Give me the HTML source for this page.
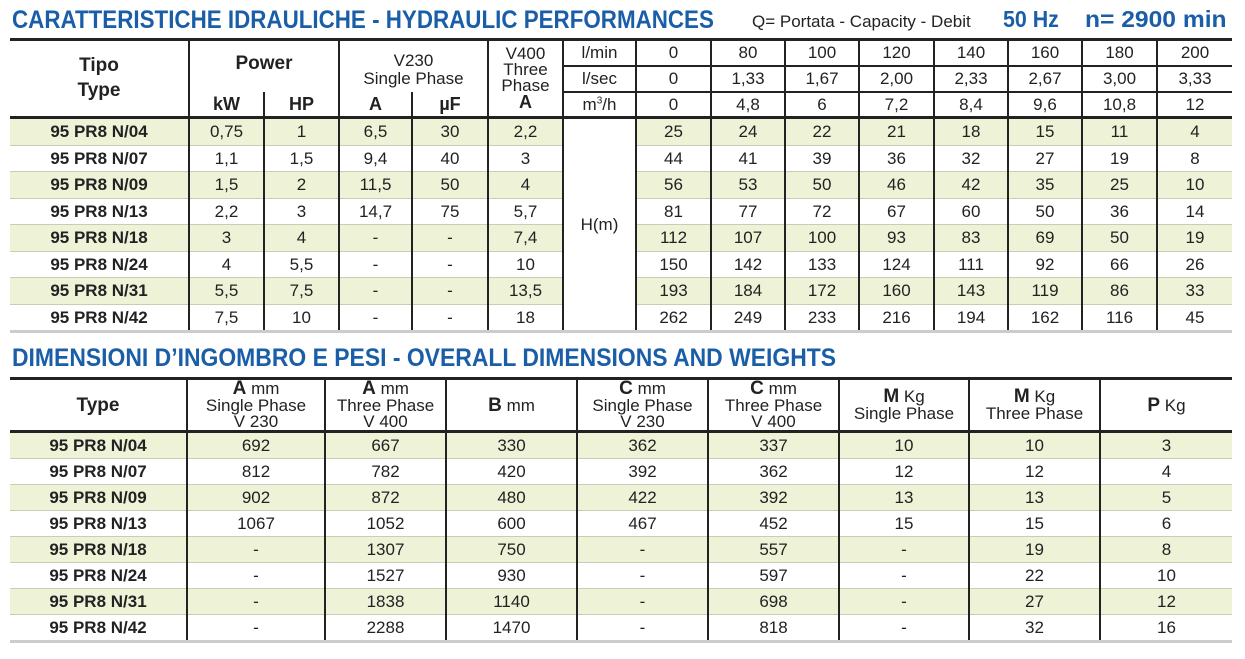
<!DOCTYPE html>
<html><head><meta charset="utf-8">
<style>
body{margin:0;width:1245px;height:659px;background:#fff;overflow:hidden;position:relative;font-family:"Liberation Sans Narrow","Liberation Sans",sans-serif;color:#222}
.t{position:absolute;font-weight:bold;color:#1a5ea8;white-space:nowrap;transform-origin:0 0}
table{position:absolute;left:10px;border-collapse:collapse;table-layout:fixed;width:1222px}
td{padding:0;text-align:center;font-size:17px;border-left:2px solid #222;border-right:2px solid #222;line-height:1;overflow:hidden;white-space:nowrap}
td:first-child{border-left:none}
tr td:last-child{border-right:none}
.h td{border-bottom:2px solid #222}
.d td{border-bottom:1px solid #c9ccb6;height:25.5px}
.t2 .d td{height:25px}
.g td{background:#eef3d8}
.g td.w,.d td.w{background:#fff}
.b{font-weight:bold}
.last td{border-bottom:3px solid #ccc}
</style></head><body>
<div class="t" style="left:12px;top:6px;font-size:25px;transform:scaleX(0.895)">CARATTERISTICHE IDRAULICHE - HYDRAULIC PERFORMANCES</div>
<div style="position:absolute;left:752px;top:12px;font-size:17px;color:#222">Q= Portata - Capacity - Debit</div>
<div class="t" style="left:1003px;top:6px;font-size:23px;transform:scaleX(0.93)">50 Hz</div>
<div class="t" style="left:1085px;top:6px;font-size:23px;transform:scaleX(1.07)">n= 2900 min</div>

<table style="top:38px;border-top:3px solid #222">
<colgroup><col style="width:179px"><col style="width:75px"><col style="width:75px"><col style="width:73px"><col style="width:76px"><col style="width:75px"><col style="width:73px"><col style="width:75px"><col style="width:74px"><col style="width:74px"><col style="width:75px"><col style="width:74px"><col style="width:74px"><col style="width:75px"><col style="width:75px"></colgroup>
<tr class="h" style="height:26px"><td rowspan="3" class="b" style="font-size:19px;line-height:1.3;border-bottom:3px solid #222">Tipo<br>Type</td><td colspan="2" rowspan="2" class="b" style="font-size:19px;border-bottom:none;vertical-align:top;padding-top:13px">Power</td><td colspan="2" rowspan="2" style="border-bottom:none;vertical-align:top;padding-top:11px;line-height:1.05">V230<br>Single Phase</td><td rowspan="3" style="line-height:0.95;border-bottom:3px solid #222">V400<br>Three<br>Phase<br><b style="font-size:18px">A</b></td><td>l/min</td><td>0</td><td>80</td><td>100</td><td>120</td><td>140</td><td>160</td><td>180</td><td>200</td></tr>
<tr class="h" style="height:26px"><td>l/sec</td><td>0</td><td>1,33</td><td>1,67</td><td>2,00</td><td>2,33</td><td>2,67</td><td>3,00</td><td>3,33</td></tr>
<tr class="h" style="height:26px"><td class="b" style="font-size:18px;border-bottom:3px solid #222;border-top:none">kW</td><td class="b" style="font-size:18px;border-bottom:3px solid #222">HP</td><td class="b" style="font-size:18px;border-bottom:3px solid #222">A</td><td class="b" style="font-size:18px;border-bottom:3px solid #222">µF</td><td style="border-bottom:3px solid #222">m<sup style="font-size:10px">3</sup>/h</td><td style="border-bottom:3px solid #222">0</td><td style="border-bottom:3px solid #222">4,8</td><td style="border-bottom:3px solid #222">6</td><td style="border-bottom:3px solid #222">7,2</td><td style="border-bottom:3px solid #222">8,4</td><td style="border-bottom:3px solid #222">9,6</td><td style="border-bottom:3px solid #222">10,8</td><td style="border-bottom:3px solid #222">12</td></tr>
<tr class="d g"><td class="b">95 PR8 N/04</td><td>0,75</td><td>1</td><td>6,5</td><td>30</td><td>2,2</td><td rowspan="8" class="w" style="border-bottom:3px solid #ccc">H(m)</td><td>25</td><td>24</td><td>22</td><td>21</td><td>18</td><td>15</td><td>11</td><td>4</td></tr>
<tr class="d"><td class="b">95 PR8 N/07</td><td>1,1</td><td>1,5</td><td>9,4</td><td>40</td><td>3</td><td>44</td><td>41</td><td>39</td><td>36</td><td>32</td><td>27</td><td>19</td><td>8</td></tr>
<tr class="d g"><td class="b">95 PR8 N/09</td><td>1,5</td><td>2</td><td>11,5</td><td>50</td><td>4</td><td>56</td><td>53</td><td>50</td><td>46</td><td>42</td><td>35</td><td>25</td><td>10</td></tr>
<tr class="d"><td class="b">95 PR8 N/13</td><td>2,2</td><td>3</td><td>14,7</td><td>75</td><td>5,7</td><td>81</td><td>77</td><td>72</td><td>67</td><td>60</td><td>50</td><td>36</td><td>14</td></tr>
<tr class="d g"><td class="b">95 PR8 N/18</td><td>3</td><td>4</td><td>-</td><td>-</td><td>7,4</td><td>112</td><td>107</td><td>100</td><td>93</td><td>83</td><td>69</td><td>50</td><td>19</td></tr>
<tr class="d"><td class="b">95 PR8 N/24</td><td>4</td><td>5,5</td><td>-</td><td>-</td><td>10</td><td>150</td><td>142</td><td>133</td><td>124</td><td>111</td><td>92</td><td>66</td><td>26</td></tr>
<tr class="d g"><td class="b">95 PR8 N/31</td><td>5,5</td><td>7,5</td><td>-</td><td>-</td><td>13,5</td><td>193</td><td>184</td><td>172</td><td>160</td><td>143</td><td>119</td><td>86</td><td>33</td></tr>
<tr class="d last"><td class="b">95 PR8 N/42</td><td>7,5</td><td>10</td><td>-</td><td>-</td><td>18</td><td>262</td><td>249</td><td>233</td><td>216</td><td>194</td><td>162</td><td>116</td><td>45</td></tr>
</table>

<div class="t" style="left:12px;top:344px;font-size:25px;transform:scaleX(0.917)">DIMENSIONI D’INGOMBRO E PESI - OVERALL DIMENSIONS AND WEIGHTS</div>

<table class="t2" style="top:377px;border-top:3px solid #222">
<colgroup><col style="width:177px"><col style="width:138px"><col style="width:121px"><col style="width:131px"><col style="width:131px"><col style="width:131px"><col style="width:130px"><col style="width:131px"><col style="width:132px"></colgroup>
<tr class="h" style="height:53px"><td class="b" style="font-size:19px;border-bottom:3px solid #222">Type</td><td style="line-height:0.95;border-bottom:3px solid #222"><b style="font-size:19px">A</b> mm<br>Single Phase<br>V 230</td><td style="line-height:0.95;border-bottom:3px solid #222"><b style="font-size:19px">A</b> mm<br>Three Phase<br>V 400</td><td style="border-bottom:3px solid #222"><b style="font-size:19px">B</b> mm</td><td style="line-height:0.95;border-bottom:3px solid #222"><b style="font-size:19px">C</b> mm<br>Single Phase<br>V 230</td><td style="line-height:0.95;border-bottom:3px solid #222"><b style="font-size:19px">C</b> mm<br>Three Phase<br>V 400</td><td style="line-height:0.95;border-bottom:3px solid #222"><b style="font-size:19px">M</b> Kg<br>Single Phase</td><td style="line-height:0.95;border-bottom:3px solid #222"><b style="font-size:19px">M</b> Kg<br>Three Phase</td><td style="border-bottom:3px solid #222"><b style="font-size:19px">P</b> Kg</td></tr>
<tr class="d g"><td class="b">95 PR8 N/04</td><td>692</td><td>667</td><td>330</td><td>362</td><td>337</td><td>10</td><td>10</td><td>3</td></tr>
<tr class="d"><td class="b">95 PR8 N/07</td><td>812</td><td>782</td><td>420</td><td>392</td><td>362</td><td>12</td><td>12</td><td>4</td></tr>
<tr class="d g"><td class="b">95 PR8 N/09</td><td>902</td><td>872</td><td>480</td><td>422</td><td>392</td><td>13</td><td>13</td><td>5</td></tr>
<tr class="d"><td class="b">95 PR8 N/13</td><td>1067</td><td>1052</td><td>600</td><td>467</td><td>452</td><td>15</td><td>15</td><td>6</td></tr>
<tr class="d g"><td class="b">95 PR8 N/18</td><td>-</td><td>1307</td><td>750</td><td>-</td><td>557</td><td>-</td><td>19</td><td>8</td></tr>
<tr class="d"><td class="b">95 PR8 N/24</td><td>-</td><td>1527</td><td>930</td><td>-</td><td>597</td><td>-</td><td>22</td><td>10</td></tr>
<tr class="d g"><td class="b">95 PR8 N/31</td><td>-</td><td>1838</td><td>1140</td><td>-</td><td>698</td><td>-</td><td>27</td><td>12</td></tr>
<tr class="d last"><td class="b">95 PR8 N/42</td><td>-</td><td>2288</td><td>1470</td><td>-</td><td>818</td><td>-</td><td>32</td><td>16</td></tr>
</table>
</body></html>
